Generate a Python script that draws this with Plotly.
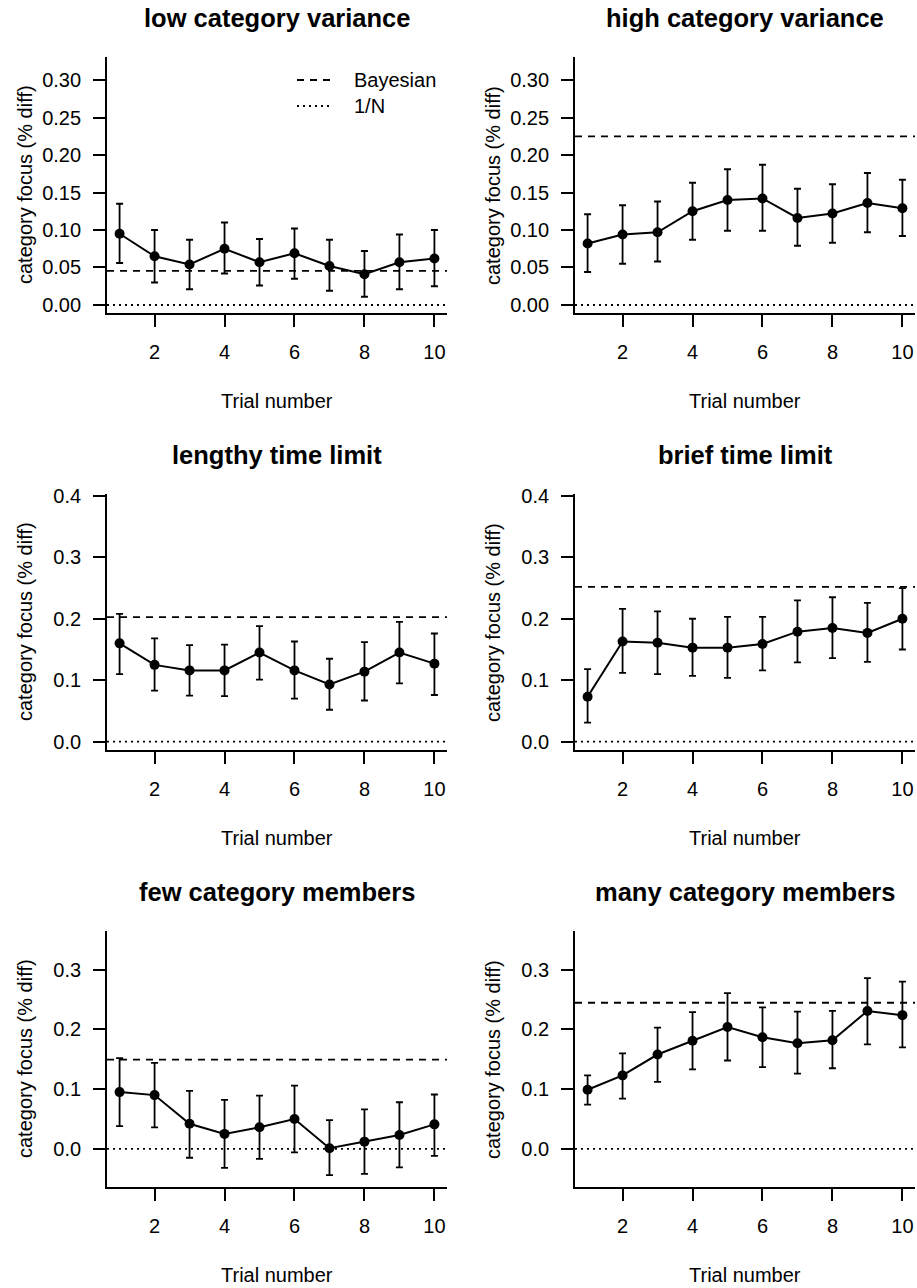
import plotly.graph_objects as go

trials = [1, 2, 3, 4, 5, 6, 7, 8, 9, 10]
x_tick_vals = [2, 4, 6, 8, 10]

titles = ["low category variance", "high category variance",
          "lengthy time limit", "brief time limit",
          "few category members", "many category members"]

low_var_mean = [0.095, 0.065, 0.054, 0.075, 0.057, 0.069, 0.052, 0.041, 0.057, 0.062]
low_var_upper = [0.135, 0.100, 0.087, 0.110, 0.088, 0.102, 0.087, 0.072, 0.094, 0.100]
low_var_lower = [0.056, 0.030, 0.021, 0.042, 0.026, 0.035, 0.019, 0.011, 0.021, 0.025]

high_var_mean = [0.082, 0.094, 0.097, 0.125, 0.140, 0.142, 0.116, 0.122, 0.136, 0.129]
high_var_upper = [0.121, 0.133, 0.138, 0.163, 0.181, 0.187, 0.155, 0.161, 0.176, 0.167]
high_var_lower = [0.044, 0.055, 0.058, 0.087, 0.099, 0.099, 0.079, 0.083, 0.097, 0.092]

lengthy_mean = [0.160, 0.125, 0.116, 0.116, 0.145, 0.116, 0.093, 0.114, 0.145, 0.127]
lengthy_upper = [0.208, 0.168, 0.157, 0.158, 0.188, 0.163, 0.135, 0.162, 0.195, 0.176]
lengthy_lower = [0.110, 0.083, 0.075, 0.074, 0.101, 0.070, 0.052, 0.067, 0.095, 0.076]

brief_mean = [0.073, 0.163, 0.161, 0.153, 0.153, 0.159, 0.179, 0.185, 0.177, 0.200]
brief_upper = [0.118, 0.216, 0.212, 0.200, 0.203, 0.203, 0.230, 0.235, 0.226, 0.250]
brief_lower = [0.031, 0.112, 0.110, 0.107, 0.104, 0.116, 0.129, 0.136, 0.130, 0.150]

few_mean = [0.095, 0.090, 0.042, 0.025, 0.036, 0.050, 0.001, 0.012, 0.023, 0.041]
few_upper = [0.152, 0.144, 0.097, 0.082, 0.089, 0.106, 0.048, 0.066, 0.078, 0.091]
few_lower = [0.038, 0.036, -0.015, -0.032, -0.017, -0.006, -0.044, -0.042, -0.031, -0.012]

many_mean = [0.099, 0.123, 0.158, 0.181, 0.204, 0.187, 0.177, 0.182, 0.231, 0.224]
many_upper = [0.123, 0.160, 0.203, 0.229, 0.261, 0.237, 0.230, 0.231, 0.286, 0.280]
many_lower = [0.074, 0.084, 0.112, 0.133, 0.148, 0.137, 0.126, 0.135, 0.175, 0.170]

bayesian = [0.0455, 0.2249, 0.2027, 0.2520, 0.1494, 0.2448]
one_over_n = [0.0, 0.0, 0.0, 0.0, 0.0, 0.0]

y_tick_vals = [
    [0.00, 0.05, 0.10, 0.15, 0.20, 0.25, 0.30],
    [0.0, 0.1, 0.2, 0.3, 0.4],
    [0.0, 0.1, 0.2, 0.3],
]
y_tick_fmt = [".2f", ".1f", ".1f"]

panels = [
    (low_var_mean, low_var_upper, low_var_lower),
    (high_var_mean, high_var_upper, high_var_lower),
    (lengthy_mean, lengthy_upper, lengthy_lower),
    (brief_mean, brief_upper, brief_lower),
    (few_mean, few_upper, few_lower),
    (many_mean, many_upper, many_lower),
]

# ---------------- layout geometry (pixels) ----------------
W, H = 917, 1288
col_x = [(107, 447), (575, 915)]
row_y = [(57, 313), (494, 750), (931, 1187)]
row_ranges = [[-0.0107, 0.3307], [-0.0135, 0.403], [-0.064, 0.365]]
x_range = [0.64, 10.36]
row_step = 437

FONT = "Liberation Sans, Arial, Helvetica, sans-serif"
LW = 1.8

def px_x(v):
    return v / W

def px_y(v):
    return 1 - v / H

fig = go.Figure()
annotations = []
shapes = []

for i, (mean, upper, lower) in enumerate(panels):
    r, c = divmod(i, 2)
    idx = "" if i == 0 else str(i + 1)
    xa = "x" + idx
    ya = "y" + idx
    err_plus = [u - m for u, m in zip(upper, mean)]
    err_minus = [m - l for m, l in zip(mean, lower)]

    fig.add_trace(go.Scatter(
        x=trials, y=mean, mode="lines+markers",
        xaxis=xa, yaxis=ya, showlegend=False,
        line=dict(color="black", width=2),
        marker=dict(color="black", size=10),
        error_y=dict(type="data", symmetric=False, array=err_plus,
                     arrayminus=err_minus, color="black",
                     thickness=LW, width=3.5),
        cliponaxis=False,
    ))

    x0, x1 = col_x[c]
    y0, y1 = row_y[r]
    axis_common = dict(
        showline=True, linecolor="black", linewidth=LW,
        ticks="outside", ticklen=12, tickwidth=LW, tickcolor="black",
        showgrid=False, zeroline=False, automargin=False,
        tickfont=dict(family=FONT, size=20, color="black"),
        mirror=False,
    )
    fig.layout["xaxis" + idx] = dict(
        domain=[px_x(x0), px_x(x1)], anchor=ya, range=x_range,
        tickmode="array", tickvals=x_tick_vals, ticklabelstandoff=8,
        **axis_common)
    fig.layout["yaxis" + idx] = dict(
        domain=[px_y(y1), px_y(y0)], anchor=xa, range=row_ranges[r],
        tickmode="array", tickvals=y_tick_vals[r],
        tickformat=y_tick_fmt[r], ticklabelstandoff=8,
        **axis_common)

    # reference lines
    shapes.append(dict(type="line", xref=xa + " domain", yref=ya,
                       x0=0, x1=1, y0=bayesian[i], y1=bayesian[i],
                       line=dict(color="black", width=LW, dash="7px,6px")))
    shapes.append(dict(type="line", xref=xa + " domain", yref=ya,
                       x0=0, x1=1, y0=one_over_n[i], y1=one_over_n[i],
                       line=dict(color="black", width=LW, dash="2px,4px")))

    # title
    annotations.append(dict(
        text="<b>" + titles[i] + "</b>", xref="paper", yref="paper",
        x=px_x((x0 + x1) / 2), y=px_y(18 + r * row_step),
        xanchor="center", yanchor="middle", showarrow=False,
        font=dict(family=FONT, size=25.5, color="black")))
    # x title
    annotations.append(dict(
        text="Trial number", xref="paper", yref="paper",
        x=px_x((x0 + x1) / 2), y=px_y(401 + r * row_step),
        xanchor="center", yanchor="middle", showarrow=False,
        font=dict(family=FONT, size=20, color="black")))
    # y title
    annotations.append(dict(
        text="category focus (% diff)", xref="paper", yref="paper",
        x=px_x(25 + c * 468), y=px_y((y0 + y1) / 2), textangle=-90,
        xanchor="center", yanchor="middle", showarrow=False,
        font=dict(family=FONT, size=20, color="black")))

# legend (first panel)
legend_items = [("Bayesian", "7px,6px", 80), ("1/N", "2px,4px", 106)]
for label, dash, yy in legend_items:
    shapes.append(dict(type="line", xref="paper", yref="paper",
                       x0=px_x(297), x1=px_x(333), y0=px_y(yy), y1=px_y(yy),
                       line=dict(color="black", width=LW, dash=dash)))
    annotations.append(dict(
        text=label, xref="paper", yref="paper",
        x=px_x(352), y=px_y(yy), xanchor="left", yanchor="middle",
        showarrow=False, font=dict(family=FONT, size=20, color="black")))

fig.update_layout(
    template="none",
    width=W, height=H,
    margin=dict(l=0, r=0, t=0, b=0, pad=0, autoexpand=False),
    paper_bgcolor="white", plot_bgcolor="white",
    shapes=shapes, annotations=annotations,
    showlegend=False,
    font=dict(family=FONT, size=20, color="black"),
)

fig.write_html(
    "out.html",
    config={"displayModeBar": False, "responsive": False},
    post_script="document.body.style.margin='0';document.body.style.overflow='hidden';",
)
